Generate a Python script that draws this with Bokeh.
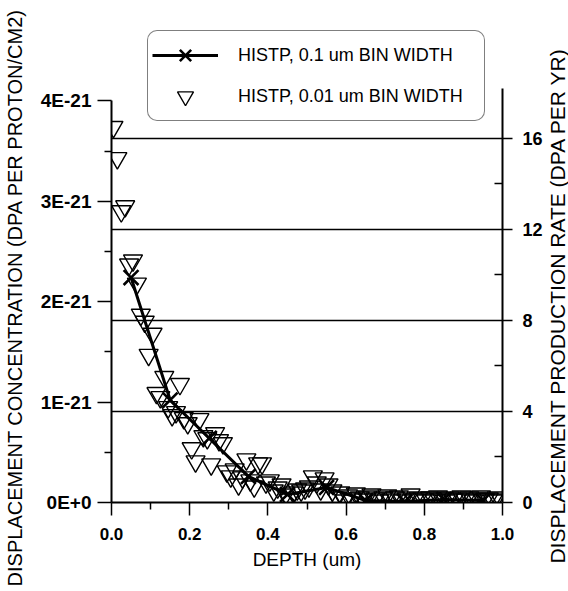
import math
from bokeh.plotting import figure
from bokeh.layouts import row
from bokeh.models import (Range1d, LinearAxis, FixedTicker, Grid, Legend, LegendItem, Label,
                          CustomJSTickFormatter, PrintfTickFormatter, ColumnDataSource)
from bokeh.embed import file_html
from bokeh.resources import INLINE

# ---- data (concentration in units of 1E-21 DPA per proton/cm2) ----
depth_coarse = [0.05, 0.15, 0.25, 0.35, 0.45, 0.55, 0.65, 0.75, 0.85, 0.95]
conc_coarse_e21 = [2.24, 1.02, 0.64, 0.26, 0.08, 0.15, 0.02, 0.01, 0.03, 0.02]

depth_fine = [round(0.005 + 0.01 * i, 3) for i in range(100)]
conc_fine_e21 = [
    3.74, 3.43, 2.90, 2.95, 2.37, 2.41, 2.18, 1.87, 1.80, 1.47,
    1.68, 1.09, 1.05, 1.25, 0.95, 0.87, 0.90, 1.18, 0.84, 0.79,
    0.54, 0.41, 0.83, 0.66, 0.64, 0.38, 0.69, 0.62, 0.59, 0.31,
    0.26, 0.33, 0.18, 0.25, 0.43, 0.22, 0.16, 0.39, 0.39, 0.20,
    0.22, 0.12, 0.15, 0.18, 0.08, 0.03, 0.10, 0.13, 0.12, 0.14,
    0.16, 0.26, 0.20, 0.13, 0.24, 0.18, 0.12, 0.05, 0.10, 0.02,
    0.07, 0.04, 0.09, 0.05, 0.03, 0.06, 0.08, 0.04, 0.02, 0.05,
    0.07, 0.03, 0.05, 0.06, 0.02, 0.04, 0.08, 0.03, 0.05, 0.04,
    0.02, 0.05, 0.03, 0.06, 0.04, 0.02, 0.05, 0.03, 0.04, 0.06,
    0.03, 0.05, 0.02, 0.04, 0.06, 0.03, 0.04, 0.02, 0.05, 0.03,
]

left_ticks = [0, 1, 2, 3, 4]
left_minor = [0.5, 1.5, 2.5, 3.5]
right_ticks = [0, 4, 8, 12, 16]
right_minor = [2, 6, 10, 14]
x_ticks = [0.0, 0.2, 0.4, 0.6, 0.8, 1.0]
x_minor = [0.1, 0.3, 0.5, 0.7, 0.9]
RATE_PER_CONC = 4.41   # DPA/yr per 1E-21 DPA/(proton/cm2)
LEFT_TOP = 4.80        # frame top (room for the legend)
LEFT_AXIS_END = 4.0
RIGHT_AXIS_END = 18.2

LEFT_TITLE = "DISPLACEMENT CONCENTRATION (DPA PER PROTON/CM2)"
RIGHT_TITLE = "DISPLACEMENT PRODUCTION RATE (DPA PER YR)"

FONT = "Liberation Sans"
H = 591
W_LEFT, W_RIGHT = 28, 22
W_MAIN = 568 - W_LEFT - W_RIGHT


def no_frame_align(fig):
    try:
        fig.frame_align = False
    except Exception:
        pass


def title_strip(text, width, center_from_top, size):
    f = figure(width=width, height=H, output_backend="svg", toolbar_location=None,
               x_range=Range1d(0, width), y_range=Range1d(0, H),
               x_axis_type=None, y_axis_type=None, min_border=0,
               background_fill_color="white", border_fill_color="white")
    f.outline_line_color = None
    f.grid.visible = False
    no_frame_align(f)
    f.add_layout(Label(x=width / 2, y=H - center_from_top, text=text,
                       angle=math.pi / 2, angle_units="rad",
                       text_align="center", text_baseline="middle",
                       text_font=FONT, text_font_size=size, text_color="black"))
    return f


p = figure(width=W_MAIN, height=H, output_backend="svg", toolbar_location=None,
           x_range=Range1d(0, 1.0), y_range=Range1d(0, LEFT_TOP),
           min_border_left=111 - W_LEFT, min_border_right=W_MAIN - (502 - W_LEFT),
           min_border_top=20, min_border_bottom=89,
           background_fill_color="white", border_fill_color="white")
p.outline_line_color = None
p.xgrid.visible = False
p.ygrid.visible = False
no_frame_align(p)
p.extra_y_ranges = {"rate": Range1d(0, LEFT_TOP * RATE_PER_CONC)}

# ---- glyphs ----
src_f = ColumnDataSource(dict(x=depth_fine, y=conc_fine_e21))
src_c = ColumnDataSource(dict(x=depth_coarse, y=conc_coarse_e21))
r_tri = p.scatter("x", "y", source=src_f, marker="inverted_triangle", size=19,
                  fill_color=None, line_color="black", line_width=1.4)
r_line = p.line("x", "y", source=src_c, line_color="black", line_width=3)
r_x = p.scatter("x", "y", source=src_c, marker="x", size=21,
                line_color="black", line_width=2.6)

# ---- axes ----
xa = p.xaxis[0]
xa.ticker = FixedTicker(ticks=x_ticks, minor_ticks=x_minor)
xa.formatter = PrintfTickFormatter(format="%.1f")
xa.axis_label = "DEPTH (um)"

ya = p.yaxis[0]
ya.ticker = FixedTicker(ticks=left_ticks, minor_ticks=left_minor)
ya.formatter = CustomJSTickFormatter(code='return tick == 0 ? "0E+0" : tick.toFixed(0) + "E-21";')
ya.bounds = (0, LEFT_AXIS_END)

ra = LinearAxis(y_range_name="rate",
                ticker=FixedTicker(ticks=right_ticks, minor_ticks=right_minor))
ra.bounds = (0, RIGHT_AXIS_END)
p.add_layout(ra, "right")

for ax in (xa, ya, ra):
    ax.axis_line_color = "black"
    ax.axis_line_width = 2
    ax.major_tick_line_color = "black"
    ax.minor_tick_line_color = "black"
    ax.major_tick_line_width = 1.5
    ax.minor_tick_line_width = 1.5
    ax.major_label_text_font = FONT
    ax.major_label_text_font_style = "bold"
    ax.major_label_text_color = "black"
    ax.axis_label_text_font = FONT
    ax.axis_label_text_font_style = "normal"
    ax.axis_label_text_color = "black"

xa.major_tick_in, xa.major_tick_out = 0, 13
xa.minor_tick_in, xa.minor_tick_out = 0, 7
xa.major_label_text_font_size = "17px"
xa.major_label_standoff = 12
xa.axis_label_text_font_size = "19px"
xa.axis_label_standoff = 6

ya.major_tick_in, ya.major_tick_out = 0, 14
ya.minor_tick_in, ya.minor_tick_out = 0, 7
ya.major_label_text_font_size = "19px"
ya.major_label_standoff = 6

ra.major_tick_in, ra.major_tick_out = 0, 10
ra.minor_tick_in, ra.minor_tick_out = 8, 0
ra.major_label_text_font_size = "18px"
ra.major_label_standoff = 10

# ---- horizontal grid at the right-axis major ticks ----
g = Grid(dimension=1, y_range_name="rate", ticker=FixedTicker(ticks=[4, 8, 12, 16]),
         grid_line_color="black", grid_line_width=1.3)
p.add_layout(g)

# ---- legend ----
legend = Legend(items=[
    LegendItem(label="HISTP, 0.1 um BIN WIDTH", renderers=[r_line, r_x]),
    LegendItem(label="HISTP, 0.01 um BIN WIDTH", renderers=[r_tri]),
], location=(36, 381), margin=0, padding=4, spacing=1,
    glyph_height=40, glyph_width=66, label_standoff=20, label_width=242,
    label_text_font=FONT, label_text_font_size="18px", label_text_color="black",
    border_line_color="black", border_line_width=1.5, background_fill_color="white",
    background_fill_alpha=1.0)
legend.border_radius = 10
p.add_layout(legend, "center")

# ---- axis titles in narrow strips beside the chart (read bottom to top) ----
left_strip = title_strip(LEFT_TITLE, W_LEFT, 297, "20px")
right_strip = title_strip(RIGHT_TITLE, W_RIGHT, 305, "21px")

layout = row(left_strip, p, right_strip, spacing=0)
open("out.html", "w").write(file_html(layout, INLINE))
